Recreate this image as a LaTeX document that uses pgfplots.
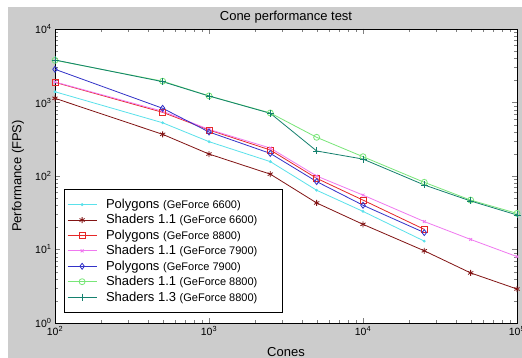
\documentclass[border=0pt]{standalone}
\usepackage{fontspec}
\setmainfont{Liberation Sans}
\usepackage{pgfplots}
\pgfplotsset{compat=1.18}
\definecolor{bgray}{RGB}{204,204,204}
\definecolor{ccyan}{RGB}{90,225,235}
\definecolor{cdred}{RGB}{130,20,20}
\definecolor{cred}{RGB}{230,40,40}
\definecolor{cmag}{RGB}{240,120,240}
\definecolor{cblue}{RGB}{50,50,200}
\definecolor{cgreen}{RGB}{120,230,120}
\definecolor{cteal}{RGB}{20,128,110}
\newcommand{\gf}[1]{{\fontsize{11}{12}\selectfont (GeForce #1)}}
\newcommand{\pre}{\rule{7pt}{0pt}}
\begin{document}
\begin{tikzpicture}
\useasboundingbox (0,0) rectangle (522pt,358pt);
\fill[bgray] (8pt,0pt) rectangle (522pt,351pt);
\begin{axis}[
  at={(55pt,35pt)}, anchor=south west,
  width=462pt, height=294pt, scale only axis,
  xmode=log, ymode=log,
  xmin=100, xmax=100000, ymin=1, ymax=10000,
  axis background/.style={fill=white},
  clip=false,
  xtick={100,1000,10000,100000},
  xticklabels={10\textsuperscript{2},10\textsuperscript{3},10\textsuperscript{4},10\textsuperscript{5}},
  ytick={1,10,100,1000,10000},
  yticklabels={10\textsuperscript{0},10\textsuperscript{1},10\textsuperscript{2},10\textsuperscript{3},10\textsuperscript{4}},
  tick label style={font=\fontsize{10.5}{12}\selectfont},
  major tick length=5pt, minor tick length=3pt,
  every axis title shift=0pt,
  title={Cone performance test},
  title style={at={(axis description cs:0.5,1.041)}, anchor=center, font=\fontsize{13}{15}\selectfont},
  xlabel={Cones},
  xlabel style={at={(axis description cs:0.5,-0.098)}, anchor=center, font=\fontsize{13}{15}\selectfont},
  ylabel={Performance (FPS)},
  ylabel style={at={(axis description cs:-0.080,0.5)}, anchor=center, font=\fontsize{13}{15}\selectfont},
  legend image code/.code={\draw[mark repeat=2,mark phase=2,#1] plot coordinates {(0pt,0pt) (14.5pt,0pt) (29pt,0pt)};},
  legend style={at={(axis description cs:0.0195,0.456)}, anchor=north west,
    font=\fontsize{13}{15}\selectfont, cells={anchor=west}, row sep=0.5pt,
    draw=black, inner xsep=3pt, inner ysep=8pt},
  every axis plot/.append style={line width=0.8pt, mark size=3pt},
]
\addplot[ccyan, mark=*, mark size=1pt] coordinates {(100,1400) (500,530) (1000,293) (2500,157) (5000,64) (10000,33) (25000,13)};
\addlegendentry{\pre Polygons \gf{6600}}
\addplot[cdred, mark=asterisk] coordinates {(100,1140) (500,369) (1000,199) (2500,106) (5000,43) (10000,22) (25000,9.6) (50000,4.8) (100000,2.9)};
\addlegendentry{\pre Shaders 1.1 \gf{6600}\rule{20pt}{0pt}}
\addplot[cred, mark=square] coordinates {(100,1880) (500,735) (1000,423) (2500,226) (5000,93) (10000,47) (25000,18.8)};
\addlegendentry{\pre Polygons \gf{8800}}
\addplot[cmag, mark=x, mark size=2pt] coordinates {(100,1900) (500,760) (1000,430) (2500,240) (5000,100) (10000,55) (25000,24) (50000,13.7) (100000,8)};
\addlegendentry{\pre Shaders 1.1 \gf{7900}}
\addplot[cblue, mark=diamond] coordinates {(100,2830) (500,834) (1000,397) (2500,203) (5000,84) (10000,40) (25000,17)};
\addlegendentry{\pre Polygons \gf{7900}}
\addplot[cgreen, mark=o] coordinates {(100,3750) (500,1950) (1000,1230) (2500,720) (5000,336) (10000,183) (25000,82) (50000,47) (100000,31)};
\addlegendentry{\pre Shaders 1.1 \gf{8800}}
\addplot[cteal, mark=+, mark size=3.5pt] coordinates {(100,3790) (500,1920) (1000,1225) (2500,713) (5000,219) (10000,170) (25000,75.5) (50000,45.7) (100000,29.5)};
\addlegendentry{\pre Shaders 1.3 \gf{8800}}
\end{axis}
\end{tikzpicture}
\end{document}
